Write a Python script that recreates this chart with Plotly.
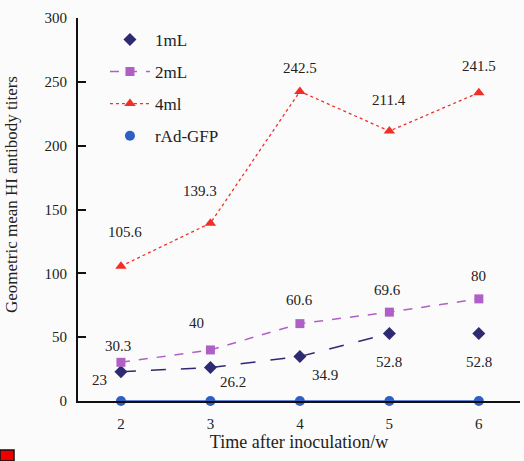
import plotly.graph_objects as go

times = [2, 3, 4, 5, 6]
tick_labels = ["2", "3", "4", "5", "6"]
ml1 = [23, 26.2, 34.9, 52.8, 52.8]
ml2 = [30.3, 40, 60.6, 69.6, 80]
ml4 = [105.6, 139.3, 242.5, 211.4, 241.5]
gfp = [0, 0, 0, 0, 0]
ml1_text = ["23", "26.2", "34.9", "52.8", "52.8"]
ml2_text = ["30.3", "40", "60.6", "69.6", "80"]
ml4_text = ["105.6", "139.3", "242.5", "211.4", "241.5"]
y_title = "Geometric mean HI antibody titers"
x_title = "Time after inoculation/w"

C1 = "#2e2a72"
C2 = "#b060c4"
C4 = "#f03028"
CG = "#2f5fc4"
FONT = "Liberation Serif"

fig = go.Figure()
# 1mL: dashed line (first four points), markers for all
fig.add_trace(go.Scatter(x=times[:4], y=ml1[:4], mode="lines", showlegend=False,
                         line=dict(color=C1, width=1.5, dash="longdash")))
fig.add_trace(go.Scatter(x=times, y=ml1, mode="markers", name="1mL", legendgroup="a",
                         marker=dict(symbol="diamond", size=10, color=C1)))
fig.add_trace(go.Scatter(x=times, y=ml2, mode="lines+markers", name="2mL", legendgroup="b",
                         line=dict(color=C2, width=1.5, dash="dash"),
                         marker=dict(symbol="square", size=9, color=C2)))
fig.add_trace(go.Scatter(x=times, y=ml4, mode="lines+markers", name="4ml", legendgroup="c",
                         line=dict(color=C4, width=1.3, dash="dot"),
                         marker=dict(symbol="triangle-up", size=10, color=C4)))
fig.add_trace(go.Scatter(x=times, y=gfp, mode="lines", showlegend=False,
                         line=dict(color=CG, width=1.5), cliponaxis=False))
fig.add_trace(go.Scatter(x=times, y=gfp, mode="markers", name="rAd-GFP", legendgroup="d",
                         marker=dict(symbol="circle", size=10, color=CG), cliponaxis=False))

ann = []
shifts1 = [(-21, -8), (23, -14), (25, -19), (0, -28), (0, -28)]
shifts2 = [(-3, 16), (-14, 27), (0, 24), (-2, 22), (0, 23)]
shifts4 = [(4, 34), (-10, 32), (0, 23), (0, 31), (0, 27)]
for vals, txt, sh in [(ml1, ml1_text, shifts1), (ml2, ml2_text, shifts2), (ml4, ml4_text, shifts4)]:
    for xv, yv, t, (dx, dy) in zip(times, vals, txt, sh):
        ann.append(dict(x=xv, y=yv, text=t, showarrow=False, xshift=dx, yshift=dy,
                        font=dict(family=FONT, size=15, color="#222")))
ann.append(dict(xref="paper", yref="paper", x=(11 - 78) / 442, y=(401 - 195) / 383,
                xanchor="center", yanchor="middle",
                text=y_title, textangle=-90, showarrow=False,
                font=dict(family=FONT, size=17, color="#222")))

fig.update_layout(
    width=524, height=461,
    margin=dict(l=78, r=4, t=18, b=60),
    paper_bgcolor="#fbfbfb", plot_bgcolor="#fbfbfb",
    font=dict(family=FONT, size=14, color="#222"),
    annotations=ann,
    legend=dict(x=0.061, y=0.99, xanchor="left", yanchor="top", itemwidth=40,
                bgcolor="rgba(0,0,0,0)", traceorder="grouped", tracegroupgap=7,
                font=dict(family=FONT, size=17, color="#222")),
    xaxis=dict(range=[1.52, 6.46], tickvals=times, ticktext=tick_labels, automargin=False,
               showgrid=False, zeroline=False, showline=True, linecolor="#111", linewidth=2,
               ticks="", ticklabelstandoff=8, tickfont=dict(family=FONT, size=15),
               title=dict(text=x_title, standoff=4,
                          font=dict(family=FONT, size=18))),
    yaxis=dict(range=[0, 300], tickvals=[0, 50, 100, 150, 200, 250, 300], automargin=False,
               showgrid=False, zeroline=False, showline=True, linecolor="#111", linewidth=2,
               ticks="inside", ticklen=8, tickwidth=1.5, tickcolor="#111",
               ticklabelstandoff=6, tickfont=dict(family=FONT, size=15)),
    shapes=[dict(type="rect", xref="paper", yref="paper", x0=-78/442, x1=-64/442,
                 y0=-60/383, y1=-49/383, fillcolor="#ee0000", line=dict(color="#111", width=1.5))],
)

fig.write_html("out.html", config={"displayModeBar": False},
               post_script="document.body.style.margin='0';document.body.style.background='#fbfbfb';")
